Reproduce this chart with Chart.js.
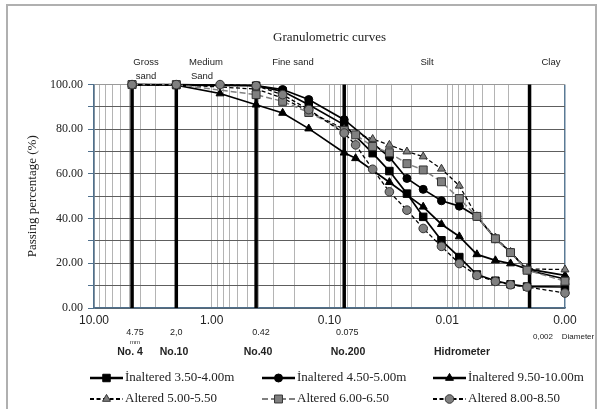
<!DOCTYPE html>
<html>
<head>
<meta charset="utf-8">
<script src="https://cdn.jsdelivr.net/npm/chart.js@4"></script>
<style>
html,body{margin:0;padding:0;background:#fff;}
#wrap{width:603px;height:409px;position:relative;}
canvas{display:block;}
</style>
</head>
<body>
<div id="wrap"><canvas id="c" width="603" height="409"></canvas></div>
<script>
// ---------- DATA ----------
const seriesNames = [
  'İnaltered 3.50-4.00m',
  'İnaltered 4.50-5.00m',
  'İnaltered 9.50-10.00m',
  'Altered 5.00-5.50',
  'Altered 6.00-6.50',
  'Altered 8.00-8.50'
];

// grain diameters (mm) and passing percentages
const in350Diam = [4.75, 2.0, 0.42, 0.25, 0.15, 0.075, 0.043, 0.031, 0.022, 0.016, 0.0112, 0.0079, 0.0056, 0.0039, 0.0029, 0.0021, 0.001];
const in350Pass = [100, 99.8, 99.5, 97, 91, 82, 69.3, 61.3, 51.2, 40.8, 30.3, 22.8, 15, 12.2, 10.6, 9.6, 9.4];

const in450Diam = [4.75, 2.0, 0.42, 0.25, 0.15, 0.075, 0.031, 0.022, 0.016, 0.0112, 0.0079, 0.0056, 0.0039, 0.0029, 0.0021, 0.001];
const in450Pass = [100, 100, 99.6, 97.8, 93.3, 84.3, 67.5, 58, 53.1, 48, 45.6, 41, 31, 25, 17, 13];

const in950Diam = [4.75, 2.0, 0.85, 0.42, 0.25, 0.15, 0.075, 0.060, 0.031, 0.016, 0.0112, 0.0079, 0.0056, 0.0039, 0.0029, 0.0021, 0.001];
const in950Pass = [100, 99.8, 96, 91, 87.3, 80.3, 69.5, 67, 56.3, 45.3, 37.5, 32, 24, 21.3, 19.9, 17.5, 14.6];

const al500Diam = [4.75, 2.0, 0.42, 0.25, 0.15, 0.075, 0.043, 0.031, 0.022, 0.016, 0.0112, 0.0079, 0.0056, 0.0039, 0.0029, 0.0021, 0.001];
const al500Pass = [100, 100, 98, 94, 88, 80, 75.6, 73, 70, 67.8, 62.3, 54.7, 41, 31.5, 25, 17.5, 17.2];

const al600Diam = [4.75, 2.0, 0.42, 0.25, 0.15, 0.075, 0.060, 0.043, 0.031, 0.022, 0.016, 0.0112, 0.0079, 0.0056, 0.0039, 0.0029, 0.0021, 0.001];
const al600Pass = [100, 100, 95.5, 92.5, 87.5, 79.5, 77.5, 72.3, 69.5, 64.6, 61.8, 56.5, 49, 41, 31, 24.8, 16.9, 12];

const al800Diam = [4.75, 2.0, 0.85, 0.42, 0.25, 0.15, 0.075, 0.060, 0.043, 0.031, 0.022, 0.016, 0.0112, 0.0079, 0.0056, 0.0039, 0.0029, 0.0021, 0.001];
const al800Pass = [100, 100, 100, 99.5, 95.5, 88.8, 78.3, 73, 62.1, 52, 43.8, 35.6, 27.6, 19.9, 14.6, 11.9, 10.4, 9.4, 6.7];

// soil class boundaries (mm)
const boundaryDiam = [4.75, 2.0, 0.42, 0.075, 0.002];

// axis ticks
const xMajorTicks = [10, 1, 0.1, 0.01, 0.001];
const xTickLabels = ['10.00', '1.00', '0.10', '0.01', '0.00'];
const yTickValues = [0, 20, 40, 60, 80, 100];

// annotation texts
const zoneLabels = [['Gross', 'sand'], ['Medium', 'Sand'], ['Fine sand'], ['Silt'], ['Clay']];
const sieveSizeLabels = ['4.75', '2,0', '0.42', '0.075', '0,002'];
const sieveNoLabels = ['No. 4', 'No.10', 'No.40', 'No.200', 'Hidrometer'];

// ---------- STYLES ----------
const GRAY = '#808080';
const styles = [
  {pt: 'rect', r: 5.3, fill: '#000', stroke: '#000', line: '#000', dash: [], lw: 1.7},
  {pt: 'circle', r: 4, fill: '#000', stroke: '#000', line: '#000', dash: [], lw: 1.7},
  {pt: 'triangle', r: 4.6, fill: '#000', stroke: '#000', line: '#000', dash: [], lw: 1.7},
  {pt: 'triangle', r: 4.6, fill: GRAY, stroke: '#333', line: '#000', dash: [4, 2.5], lw: 1.3},
  {pt: 'rect', r: 5.6, fill: GRAY, stroke: '#333', line: GRAY, dash: [6, 3], lw: 1.5},
  {pt: 'circle', r: 4.3, fill: GRAY, stroke: '#333', line: '#000', dash: [4, 2.5], lw: 1.3}
];

const diams = [in350Diam, in450Diam, in950Diam, al500Diam, al600Diam, al800Diam];
const passes = [in350Pass, in450Pass, in950Pass, al500Pass, al600Pass, al800Pass];

const datasets = [];
boundaryDiam.forEach(d => {
  datasets.push({
    label: 'b' + d,
    data: [{x: d, y: 0}, {x: d, y: 100}],
    showLine: true, borderColor: '#000', borderWidth: 3.5,
    pointRadius: 0, order: 50, clip: false
  });
});
const drawOrder = [6, 5, 4, 3, 2, 1];
seriesNames.forEach((name, i) => {
  const s = styles[i];
  datasets.push({
    label: name,
    data: diams[i].map((d, k) => ({x: d, y: passes[i][k]})),
    showLine: true,
    borderColor: s.line, borderWidth: s.lw, borderDash: s.dash,
    pointStyle: s.pt, pointRadius: s.r, pointBackgroundColor: s.fill,
    pointBorderColor: s.stroke, pointBorderWidth: 1,
    order: drawOrder[i], clip: false, tension: 0
  });
});

function approxIdx(arr, v) {
  for (let i = 0; i < arr.length; i++) {
    if (Math.abs(Math.log10(arr[i]) - Math.log10(v)) < 1e-6) return i;
  }
  return -1;
}

const xGridValues = [];
xMajorTicks.forEach((m, i) => {
  xGridValues.push(m);
  if (i < xMajorTicks.length - 1) {
    for (let k = 9; k >= 2; k--) xGridValues.push(+(k * xMajorTicks[i + 1]).toPrecision(6));
  }
});

function drawMarker(ctx, s, x, y) {
  ctx.save();
  ctx.fillStyle = s.fill; ctx.strokeStyle = s.stroke; ctx.lineWidth = 1; ctx.setLineDash([]);
  ctx.beginPath();
  if (s.pt === 'rect') {
    const h = s.r * Math.SQRT1_2;
    ctx.rect(x - h, y - h, 2 * h, 2 * h);
  } else if (s.pt === 'circle') {
    ctx.arc(x, y, s.r, 0, Math.PI * 2);
  } else {
    const r = s.r;
    ctx.moveTo(x, y - r);
    ctx.lineTo(x + r * Math.sin(Math.PI / 3), y + r * 0.5);
    ctx.lineTo(x - r * Math.sin(Math.PI / 3), y + r * 0.5);
    ctx.closePath();
  }
  ctx.fill(); ctx.stroke();
  ctx.restore();
}

const annot = {
  id: 'annot',
  beforeDraw(chart) {
    const ctx = chart.ctx;
    ctx.save();
    ctx.fillStyle = '#fff';
    ctx.fillRect(0, 0, chart.width, chart.height);
    ctx.strokeStyle = '#b0b0b0';
    ctx.lineWidth = 2;
    ctx.strokeRect(7, 5, 589, 430);
    ctx.restore();
  },
  afterDraw(chart) {
    const ctx = chart.ctx;
    const xs = chart.scales.x;
    ctx.save();
    ctx.fillStyle = '#222';
    ctx.textAlign = 'center';
    ctx.textBaseline = 'middle';
    ctx.font = '9.5px "Liberation Sans"';
    const zoneX = [146, 206, 293, 427, 551];
    zoneLabels.forEach((lines, i) => {
      lines.forEach((t, j) => {
        let x = zoneX[i];
        if (i === 1 && j === 1) x = 202;
        ctx.fillText(t, x, 62 + j * 14);
      });
    });
    ctx.font = '9px "Liberation Sans"';
    const sizeX = [xs.getPixelForValue(boundaryDiam[0]) + 3, xs.getPixelForValue(boundaryDiam[1]),
                   xs.getPixelForValue(boundaryDiam[2]) + 5, xs.getPixelForValue(boundaryDiam[3]) + 3, 543];
    sieveSizeLabels.forEach((t, i) => {
      if (i === 4) { ctx.font = '8px "Liberation Sans"'; }
      ctx.fillText(t, sizeX[i], i === 4 ? 337 : 333);
    });
    ctx.fillText('Diameter', 578, 337);
    ctx.font = '6px "Liberation Sans"';
    ctx.fillText('mm', sizeX[0], 342);
    ctx.font = 'bold 10.5px "Liberation Sans"';
    const noX = [130, 174, 258, 348, 462];
    sieveNoLabels.forEach((t, i) => ctx.fillText(t, noX[i], 352));
    const colX = [90, 262, 433];
    const rowY = [378, 399];
    ctx.textAlign = 'left';
    ctx.font = '13px "Liberation Serif"';
    seriesNames.forEach((name, i) => {
      const s = styles[i];
      const x0 = colX[i % 3], y = rowY[Math.floor(i / 3)];
      ctx.save();
      ctx.strokeStyle = s.line; ctx.lineWidth = s.lw + 0.6;
      ctx.setLineDash(s.dash);
      ctx.beginPath(); ctx.moveTo(x0, y); ctx.lineTo(x0 + 33, y); ctx.stroke();
      ctx.restore();
      drawMarker(ctx, s, x0 + 16.5, y);
      ctx.fillStyle = '#222';
      ctx.fillText(name, x0 + 35, y);
    });
    ctx.restore();
  }
};

new Chart(document.getElementById('c'), {
  type: 'scatter',
  data: {datasets},
  options: {
    responsive: false,
    devicePixelRatio: 1,
    animation: false,
    layout: {padding: {left: 0, right: 38, top: 0, bottom: 0}},
    plugins: {
      legend: {display: false},
      tooltip: {enabled: false},
      title: {
        display: true, fullSize: false,
        text: 'Granulometric curves',
        color: '#222',
        font: {family: '"Liberation Serif"', size: 13, weight: 'normal'},
        padding: {top: 30, bottom: 39}
      }
    },
    scales: {
      x: {
        type: 'logarithmic', reverse: true, min: 0.001, max: 10,
        afterBuildTicks(scale) { scale.ticks = xGridValues.map(v => ({value: v})); },
        afterFit(scale) { scale.height = 101; },
        ticks: {
          autoSkip: false, maxRotation: 0, padding: 5,
          color: '#222', font: {family: '"Liberation Sans"', size: 12},
          callback(v) { const i = approxIdx(xMajorTicks, v); return i >= 0 ? xTickLabels[i] : ''; }
        },
        grid: {
          drawTicks: false,
          color(c) { return (c.tick && Math.abs(c.tick.value - 0.001) < 1e-9) ? '#5a7a95' : '#b4b4b4'; },
          lineWidth(c) { return (c.tick && Math.abs(c.tick.value - 0.001) < 1e-9) ? 1.5 : 1; }
        },
        border: {display: true, color: '#50708c', width: 1.5}
      },
      y: {
        type: 'linear', min: 0, max: 100,
        afterFit(scale) { scale.width = 94; },
        ticks: {
          stepSize: 10, autoSkip: false, padding: 5,
          color: '#222', font: {family: '"Liberation Serif"', size: 12},
          callback(v) { return yTickValues.includes(v) ? v.toFixed(2) : ''; }
        },
        grid: {
          tickLength: 6,
          color(c) { return (c.tick && c.tick.value === 100) ? '#9a9a9a' : '#5e5e5e'; },
          tickColor: '#50708c'
        },
        border: {display: true, color: '#50708c', width: 1.5},
        title: {
          display: true, text: 'Passing percentage (%)', color: '#222',
          font: {family: '"Liberation Serif"', size: 13},
          padding: {top: 25, bottom: 0}
        }
      }
    }
  },
  plugins: [annot]
});
</script>
</body>
</html>
